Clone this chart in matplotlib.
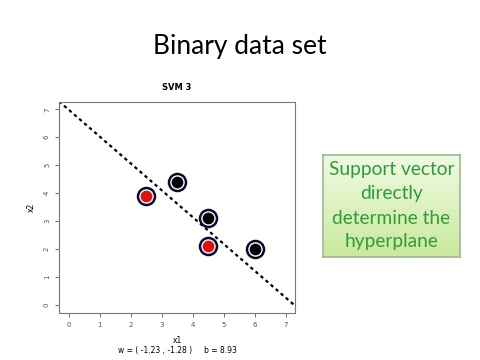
import numpy as np
import matplotlib.pyplot as plt
from matplotlib.colors import LinearSegmentedColormap

# data
red_x = [2.5, 4.5]
red_y = [3.9, 2.1]
black_x = [3.5, 4.5, 6.0]
black_y = [4.4, 3.1, 2.0]
w = (-1.23, -1.28)
b = 8.93
ticks = [0, 1, 2, 3, 4, 5, 6, 7]

fig = plt.figure(figsize=(4.8, 3.6), dpi=100)
fig.patch.set_facecolor('white')

fig.text(0.5, 0.872, 'Binary data set', ha='center', va='center',
         fontsize=19, family='Lato', color='black')

ax = fig.add_axes([59/480, 1 - 313/360, (295-59)/480, (313-102)/360])
xlim = (-0.32, 7.29)
ax.set_xlim(*xlim)
ax.set_ylim(-0.29, 7.26)

xs = np.array(xlim)
ax.plot(xs, (b + w[0]*xs) / -w[1], color='black', linestyle=(0, (1.5, 1.5)), lw=1.6)

# support vectors: dark ring, white gap, filled centre
for px, py, c in [(red_x, red_y, '#e01010'), (black_x, black_y, 'black')]:
    ax.scatter(px, py, s=150, facecolor='white', edgecolor='#0a0a30', linewidth=1.8, zorder=3)
    ax.scatter(px, py, s=55, color=c, zorder=4)

ax.set_xticks(ticks)
ax.set_yticks(ticks)
ax.tick_params(labelsize=5, colors='#555555', length=3, width=0.6)
for lab in ax.get_yticklabels():
    lab.set_rotation(90)
    lab.set_va('center')
for s in ax.spines.values():
    s.set_color('#777777')
    s.set_linewidth(0.8)

ax.set_title('SVM 3', fontsize=6, fontweight='bold', pad=9)
ax.set_xlabel('x1', fontsize=5.5, labelpad=6)
ax.set_ylabel('x2', fontsize=5.5, labelpad=6)
fig.text(177/480, 1 - 350/360, 'w = ( -1.23 , -1.28 )     b = 8.93',
         ha='center', va='center', fontsize=5.5)

# green callout box with a soft gradient
bx0, by0, bx1, by1 = 323/480, 1 - 257/360, 460/480, 1 - 155/360
grad = np.linspace(0, 1, 100).reshape(-1, 1)
gax = fig.add_axes([bx0, by0, bx1 - bx0, by1 - by0])
cm = LinearSegmentedColormap.from_list('g', ['#f0fae3', '#c9e99c'])
gax.imshow(grad, aspect='auto', cmap=cm, extent=[0, 1, 0, 1], origin='upper')
gax.set_xticks([])
gax.set_yticks([])
for s in gax.spines.values():
    s.set_color('#a0b890')
    s.set_linewidth(1.2)
gax.text(0.5, 0.5, 'Support vector\ndirectly\ndetermine the\nhyperplane',
         ha='center', va='center', fontsize=13.8, family='Lato', color='#2f9c3a',
         linespacing=1.5, transform=gax.transAxes)

fig.savefig('out.png', dpi=100)
